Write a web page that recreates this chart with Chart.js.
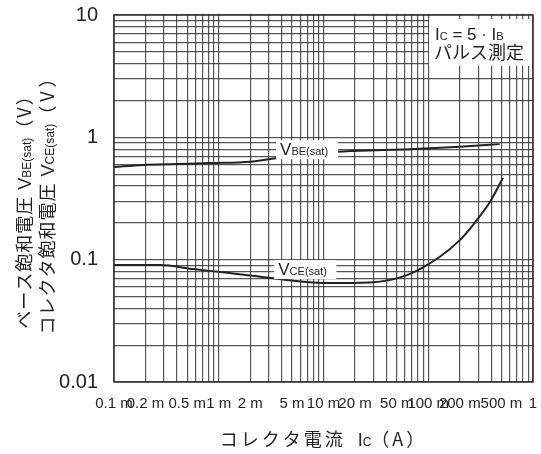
<!DOCTYPE html>
<html>
<head>
<meta charset="utf-8">
<script src="https://cdn.jsdelivr.net/npm/chart.js@4.4.0/dist/chart.umd.min.js"></script>
<style>
  html, body { margin: 0; padding: 0; background: #fff; }
</style>
</head>
<body>
<canvas id="satChart" width="541" height="454"></canvas>
<script>
// values (Ic in A, V in volts)
const icBE = [1e-4, 1.9e-4, 4e-4, 8.3e-4, 2e-3, 3.1e-3, 0.0135, 0.037, 0.067, 0.2, 0.48]
const vBE = [0.571, 0.594, 0.605, 0.616, 0.632, 0.665, 0.762, 0.787, 0.80, 0.838, 0.88]

const icCE = [1e-4, 2.75e-4, 5.7e-4, 1.2e-3, 2.5e-3, 0.0108, 0.0278, 0.0626, 0.129, 0.2, 0.267, 0.389, 0.517]
const vCE = [0.0903, 0.0903, 0.0838, 0.0782, 0.0725, 0.0644, 0.0652, 0.0748, 0.1056, 0.1445, 0.192, 0.297, 0.467]

const xTickValues = [1e-4, 2e-4, 5e-4, 1e-3, 2e-3, 5e-3, 1e-2, 2e-2, 5e-2, 0.1, 0.2, 0.5, 1]
const xTickLabels = ['0.1 m', '0.2 m', '0.5 m', '1 m', '2 m', '5 m', '10 m', '20 m', '50 m', '100 m', '200 m', '500 m', '1']
const yTickValues = [0.01, 0.1, 1, 10]
const yTickLabels = ['0.01', '0.1', '1', '10']

const latin = "'Liberation Sans', Arial, sans-serif"
const narrow = "'Liberation Sans Narrow', 'Arial Narrow', 'Liberation Sans', sans-serif"
const jp = "'Noto Sans CJK JP', 'Noto Sans CJK SC', sans-serif"

// grid lines at 1..9 of every decade
function logGrid(min, max) {
  const out = []
  for (let e = Math.round(Math.log10(min)); e < Math.round(Math.log10(max)); e++) {
    for (let m = 1; m < 10; m++) out.push(m * Math.pow(10, e))
  }
  out.push(max)
  return out
}

function labelFor(value, values, labels) {
  const i = values.findIndex(v => Math.abs(Math.log10(v) - Math.log10(value)) < 1e-6)
  return i >= 0 ? labels[i] : ''
}

function drawRich(ctx, parts, x, y, align) {
  let w = 0
  parts.forEach(p => {
    ctx.font = p.font
    ctx.letterSpacing = p.ls || '0px'
    w += ctx.measureText(p.text).width + (p.gap || 0)
  })
  let cx = align === 'center' ? x - w / 2 : align === 'right' ? x - w : x
  ctx.textAlign = 'left'
  ctx.textBaseline = 'alphabetic'
  parts.forEach(p => {
    ctx.font = p.font
    ctx.letterSpacing = p.ls || '0px'
    ctx.fillText(p.text, cx, y + (p.dy || 0))
    cx += ctx.measureText(p.text).width + (p.gap || 0)
  })
  ctx.letterSpacing = '0px'
  return w
}

const curveLabels = [
  { x: 3.85e-3, y: 0.80, parts: [{ text: 'V', font: '17px ' + latin }, { text: 'BE(sat)', font: '11px ' + latin }] },
  { x: 3.7e-3, y: 0.0838, parts: [{ text: 'V', font: '17px ' + latin }, { text: 'CE(sat)', font: '11px ' + latin }] }
]

const annotate = {
  id: 'annotate',
  beforeDraw(chart) {
    const ctx = chart.ctx
    ctx.save()
    ctx.fillStyle = '#fff'
    ctx.fillRect(0, 0, chart.width, chart.height)
    ctx.restore()
  },
  afterDatasetsDraw(chart) {
    const { ctx, chartArea: a, scales } = chart
    ctx.save()
    ctx.fillStyle = '#222'

    // labels sitting on the curves
    curveLabels.forEach(l => {
      const px = scales.x.getPixelForValue(l.x)
      const py = scales.y.getPixelForValue(l.y)
      ctx.fillStyle = '#fff'
      ctx.fillRect(px - 4, py - 9, 62, 19)
      ctx.fillStyle = '#222'
      drawRich(ctx, l.parts, px, py + 6, 'left')
    })

    // condition note, top right
    ctx.fillStyle = '#fff'
    ctx.fillRect(a.right - 104, a.top + 4, 103, 47)
    ctx.fillStyle = '#222'
    drawRich(ctx, [
      { text: 'I', font: '17px ' + latin },
      { text: 'C', font: '11px ' + latin },
      { text: ' = 5 · I', font: '17px ' + latin },
      { text: 'B', font: '11px ' + latin }
    ], a.right - 98, a.top + 25, 'left')
    ctx.font = '18px ' + jp
    ctx.textAlign = 'left'
    ctx.fillText('パルス測定', a.right - 99, a.top + 44)

    // frame
    ctx.strokeStyle = '#333'
    ctx.lineWidth = 1.5
    ctx.strokeRect(a.left, a.top, a.right - a.left, a.bottom - a.top)
    ctx.restore()
  },
  afterDraw(chart) {
    const { ctx, chartArea: a } = chart
    ctx.save()
    ctx.fillStyle = '#222'

    // x axis title
    drawRich(ctx, [
      { text: 'コレクタ電流', font: '18px ' + jp, ls: '3px' },
      { text: '', font: '18px ' + jp, gap: 12 },
      { text: 'I', font: '18px ' + latin },
      { text: 'C', font: '12px ' + latin },
      { text: '（A）', font: '18px ' + jp, ls: '3px' }
    ], (a.left + a.right) / 2, 446, 'center')

    // y axis title, two rotated lines
    ctx.save()
    ctx.translate(31, 207)
    ctx.rotate(-Math.PI / 2)
    drawRich(ctx, [
      { text: 'ベース飽和電圧', font: '18px ' + jp, ls: '1px' },
      { text: '', font: '18px ' + jp, gap: 6 },
      { text: 'V', font: '18px ' + latin },
      { text: 'BE(sat)', font: '12px ' + latin },
      { text: '（V）', font: '18px ' + jp, ls: '2px' }
    ], 0, 0, 'center')
    ctx.restore()
    ctx.save()
    ctx.translate(54, 200)
    ctx.rotate(-Math.PI / 2)
    drawRich(ctx, [
      { text: 'コレクタ飽和電圧', font: '18px ' + jp, ls: '1px' },
      { text: '', font: '18px ' + jp, gap: 6 },
      { text: 'V', font: '18px ' + latin },
      { text: 'CE(sat)', font: '12px ' + latin },
      { text: '（V）', font: '18px ' + jp, ls: '4px' }
    ], 0, 0, 'center')
    ctx.restore()
    ctx.restore()
  }
}

const ctx = document.getElementById('satChart').getContext('2d')

const satChart = new Chart(ctx, {
  type: 'line',
  data: {
    datasets: [
      {
        label: 'VBE(sat)',
        data: icBE.map((x, i) => ({ x, y: vBE[i] })),
        borderColor: '#222',
        borderWidth: 2,
        pointRadius: 0,
        cubicInterpolationMode: 'monotone',
        fill: false
      },
      {
        label: 'VCE(sat)',
        data: icCE.map((x, i) => ({ x, y: vCE[i] })),
        borderColor: '#222',
        borderWidth: 2,
        pointRadius: 0,
        cubicInterpolationMode: 'monotone',
        fill: false
      }
    ]
  },
  options: {
    responsive: false,
    animation: false,
    layout: { padding: { top: 15, right: 8, left: 0, bottom: 0 } },
    plugins: {
      legend: { display: false },
      tooltip: { enabled: false }
    },
    scales: {
      x: {
        type: 'logarithmic',
        min: 1e-4,
        max: 1,
        afterBuildTicks: scale => { scale.ticks = logGrid(1e-4, 1).map(v => ({ value: v })) },
        afterFit: scale => { scale.height = 72 },
        ticks: {
          autoSkip: false,
          maxRotation: 0,
          padding: 0,
          color: '#222',
          font: { family: narrow, size: 15 },
          callback: value => labelFor(value, xTickValues, xTickLabels)
        },
        grid: {
          drawTicks: true,
          tickLength: 13,
          tickColor: 'rgba(0, 0, 0, 0)',
          color: 'rgba(45, 45, 45, 0.8)',
          lineWidth: 1.2
        },
        border: { display: false }
      },
      y: {
        type: 'logarithmic',
        min: 0.01,
        max: 10,
        afterBuildTicks: scale => { scale.ticks = logGrid(0.01, 10).map(v => ({ value: v })) },
        afterFit: scale => { scale.width = 114 },
        ticks: {
          autoSkip: false,
          padding: 0,
          color: '#222',
          font: { family: latin, size: 20 },
          callback: value => labelFor(value, yTickValues, yTickLabels)
        },
        grid: {
          drawTicks: true,
          tickLength: 16,
          tickColor: 'rgba(0, 0, 0, 0)',
          color: 'rgba(45, 45, 45, 0.8)',
          lineWidth: 1.2
        },
        border: { display: false }
      }
    }
  },
  plugins: [annotate]
})
</script>
</body>
</html>
